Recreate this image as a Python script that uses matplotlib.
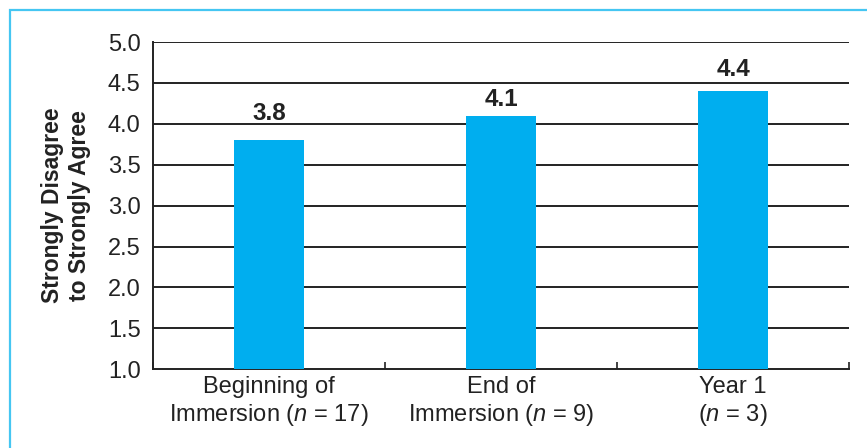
import numpy as np
import matplotlib.pyplot as plt
from matplotlib.patches import Rectangle

plt.rcParams['font.family'] = ['Liberation Sans', 'DejaVu Sans']
plt.rcParams['mathtext.fontset'] = 'custom'
plt.rcParams['mathtext.it'] = 'Liberation Sans:italic'
plt.rcParams['mathtext.rm'] = 'Liberation Sans'

categories = ["Beginning of\nImmersion ($n$ = 17)",
              "End of\nImmersion ($n$ = 9)",
              "Year 1\n($n$ = 3)"]
values = [3.8, 4.1, 4.4]
value_labels = ["3.8", "4.1", "4.4"]
yticks = [1.0, 1.5, 2.0, 2.5, 3.0, 3.5, 4.0, 4.5, 5.0]

# gap (points) between bar top and label baseline, as in the original layout
label_gap = [14.4, 7.2, 10.8]

fig = plt.figure(figsize=(8.67, 4.48), dpi=100)
ax = fig.add_axes([0.1765, 0.176, 0.803, 0.730])

# light blue frame round the figure (only top/left visible)
fig.patches.append(Rectangle((0.012, -0.1), 1.2, 0.1 + 0.9766, transform=fig.transFigure,
                             fill=False, edgecolor='#45C6F2', linewidth=1.6, zorder=0))

x = np.arange(len(categories))
ax.bar(x, values, width=0.3, bottom=0, color='#00AEEF', zorder=3)

ax.set_ylim(1.0, 5.0)
ax.set_xlim(-0.5, len(categories) - 0.5)
ax.set_yticks(yticks)
ax.set_yticklabels([f"{v:.1f}" for v in yticks])
for y in yticks[1:]:
    ax.axhline(y, color='#222222', linewidth=1.4, zorder=1)

for xi, v, lab, gap in zip(x, values, value_labels, label_gap):
    ax.annotate(lab, (xi, v), xytext=(0, gap), textcoords='offset points',
                ha='center', va='baseline', fontsize=17.5, fontweight='bold', color='#222222')

# ticks at category boundaries, labels at centres
ax.set_xticks(np.arange(len(categories) + 1) - 0.5)
ax.set_xticklabels([])
ax.tick_params(axis='x', which='major', direction='in', length=5, width=1.2, color='#222222')
ax.set_xticks(x, minor=True)
ax.set_xticklabels(categories, minor=True, fontsize=17, color='#222222', linespacing=1.2)
ax.tick_params(axis='x', which='minor', length=0, pad=5)
ax.tick_params(axis='y', length=0, pad=9, labelsize=17, labelcolor='#222222')

for s in ['top', 'right']:
    ax.spines[s].set_visible(False)
for s in ['left', 'bottom']:
    ax.spines[s].set_color('#222222')
    ax.spines[s].set_linewidth(1.4)

ax.set_ylabel("Strongly Disagree\nto Strongly Agree", fontsize=16.5, fontweight='bold',
              color='#222222', labelpad=12, linespacing=1.25)

fig.savefig("out.png", dpi=100)
